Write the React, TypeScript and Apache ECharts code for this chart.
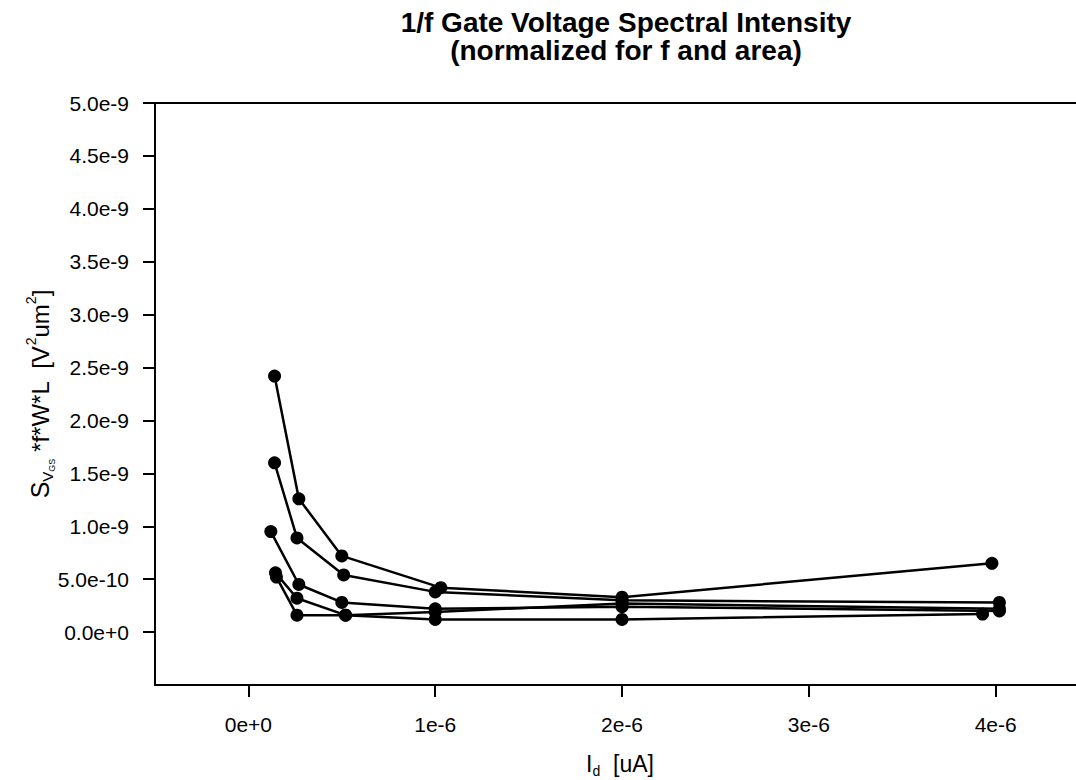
import React, { useEffect, useRef } from "react";
import * as echarts from "echarts";

// x in units of 1e-6 A, y in units of 1e-9 V^2um^2
const seriesNames = ["A", "B", "C", "D", "E"];
const xA = [0.14, 0.27, 0.5, 1.03, 2.0, 3.98];
const yA = [2.42, 1.26, 0.72, 0.42, 0.33, 0.65];
const xB = [0.14, 0.26, 0.51, 1.0, 2.0, 4.02];
const yB = [1.6, 0.89, 0.54, 0.38, 0.3, 0.28];
const xC = [0.12, 0.27, 0.5, 1.0, 2.0, 4.02];
const yC = [0.95, 0.45, 0.28, 0.22, 0.24, 0.2];
const xD = [0.145, 0.26, 0.52, 1.0, 2.0, 4.02];
const yD = [0.56, 0.32, 0.16, 0.19, 0.27, 0.22];
const xE = [0.15, 0.26, 0.52, 1.0, 2.0, 3.93];
const yE = [0.52, 0.16, 0.16, 0.12, 0.12, 0.17];

const xTickValues = [0, 1, 2, 3, 4];
const xTickLabels = ["0e+0", "1e-6", "2e-6", "3e-6", "4e-6"];
const yTickValues = [0, 0.5, 1, 1.5, 2, 2.5, 3, 3.5, 4, 4.5, 5];
const yTickLabels = [
  "0.0e+0", "5.0e-10", "1.0e-9", "1.5e-9", "2.0e-9", "2.5e-9",
  "3.0e-9", "3.5e-9", "4.0e-9", "4.5e-9", "5.0e-9",
];

const FONT = '"Liberation Sans", Arial, Helvetica, sans-serif';
const TICK_FONT = 21;

function measure(text: string, size: number, weight = "normal") {
  const c = document.createElement("canvas").getContext("2d")!;
  c.font = `${weight} ${size}px ${FONT}`;
  return c.measureText(text).width;
}

type Piece = { t: string; s: number; dy: number };

function buildPieces(pieces: Piece[]) {
  const widths = pieces.map((p) => measure(p.t, p.s));
  const total = widths.reduce((a, b) => a + b, 0);
  let x = -total / 2;
  return pieces.map((p, i) => {
    const el = {
      type: "text",
      x,
      y: p.dy,
      style: {
        text: p.t,
        font: `normal ${p.s}px ${FONT}`,
        fill: "#000",
        align: "left",
        verticalAlign: "middle",
      },
    };
    x += widths[i];
    return el;
  });
}

function lookup(values: number[], labels: string[]) {
  return (v: number) => {
    const i = values.findIndex((t) => Math.abs(t - v) < 1e-6);
    return i >= 0 ? labels[i] : "";
  };
}

export default function App() {
  const ref = useRef<HTMLDivElement>(null);
  useEffect(() => {
    if (!ref.current) return;
    const chart = echarts.init(ref.current, null, { renderer: "svg" });
    const xs = [xA, xB, xC, xD, xE];
    const ys = [yA, yB, yC, yD, yE];
    const yName: Piece[] = [
      { t: "S", s: 25, dy: 0 },
      { t: "V", s: 15, dy: 7 },
      { t: "GS", s: 9, dy: 12 },
      { t: " *f*W*L  [V", s: 24, dy: 0 },
      { t: "2", s: 14, dy: -9 },
      { t: "um", s: 24, dy: 0 },
      { t: "2", s: 14, dy: -9 },
      { t: "]", s: 24, dy: 0 },
    ];
    const xName: Piece[] = [
      { t: "I", s: 23, dy: 0 },
      { t: "d", s: 14, dy: 7 },
      { t: "  [uA]", s: 23, dy: 0 },
    ];
    chart.setOption({
      animation: false,
      backgroundColor: "#fff",
      title: {
        text: "1/f Gate Voltage Spectral Intensity\n(normalized for f and area)",
        left: 621,
        top: 3,
        textAlign: "center",
        textStyle: {
          fontFamily: FONT,
          fontWeight: "bold",
          fontSize: 28,
          lineHeight: 28,
          color: "#000",
        },
      },
      grid: { left: 155, right: 0, top: 103, bottom: 95, containLabel: false },
      xAxis: [
        {
          type: "value",
          min: -0.5,
          max: 4.43,
          interval: 0.5,
          position: "bottom",
          axisLine: { show: true, onZero: false, lineStyle: { color: "#000", width: 2 } },
          axisTick: {
            show: true,
            length: 12,
            lineStyle: { color: "#000", width: 2 },
            customValues: xTickValues,
          },
          axisLabel: {
            showMinLabel: false,
            showMaxLabel: false,
            margin: 29,
            fontFamily: FONT,
            fontSize: TICK_FONT,
            color: "#000",
            formatter: lookup(xTickValues, xTickLabels),
          },
          splitLine: { show: false },
        },
        {
          type: "value",
          min: -0.5,
          max: 4.43,
          position: "top",
          axisLine: { show: true, onZero: false, lineStyle: { color: "#000", width: 2 } },
          axisTick: { show: false },
          axisLabel: { show: false },
          splitLine: { show: false },
        },
      ],
      yAxis: {
        type: "value",
        min: -0.5,
        max: 5,
        interval: 0.5,
        axisLine: { show: true, onZero: false, lineStyle: { color: "#000", width: 2 } },
        axisTick: {
          show: true,
          length: 12,
          lineStyle: { color: "#000", width: 2 },
          customValues: yTickValues,
        },
        axisLabel: {
          showMinLabel: false,
          margin: 26,
          fontFamily: FONT,
          fontSize: TICK_FONT,
          color: "#000",
          formatter: lookup(yTickValues, yTickLabels),
        },
        splitLine: { show: false },
      },
      graphic: [
        {
          type: "group",
          x: 40,
          y: 394,
          rotation: Math.PI / 2,
          children: buildPieces(yName),
        },
        {
          type: "group",
          x: 620,
          y: 764,
          children: buildPieces(xName),
        },
      ],
      series: seriesNames.map((name, k) => ({
        name,
        type: "line",
        xAxisIndex: 0,
        data: xs[k].map((x, i) => [x, ys[k][i]]),
        symbol: "circle",
        symbolSize: 13,
        showSymbol: true,
        itemStyle: { color: "#000" },
        lineStyle: { color: "#000", width: 2.5 },
      })),
    });
    return () => chart.dispose();
  }, []);
  return (
    <div
      ref={ref}
      style={{ position: "absolute", left: 0, top: 0, width: 1076, height: 780 }}
    />
  );
}
